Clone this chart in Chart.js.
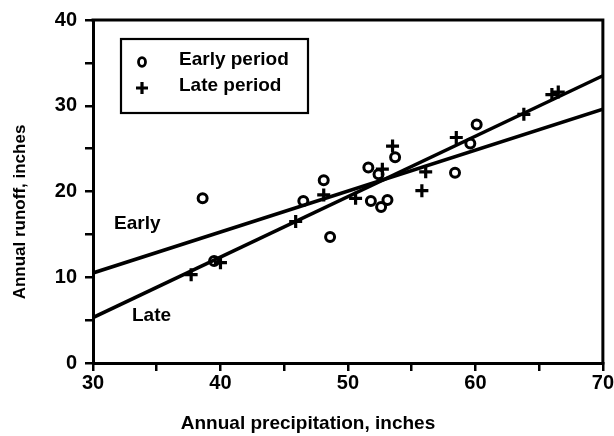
<!DOCTYPE html>
<html><head><meta charset="utf-8">
<script src="https://cdn.jsdelivr.net/npm/chart.js@4"></script>
<style>html,body{margin:0;padding:0;background:#fff;}canvas{display:block}</style>
</head><body>
<canvas id="c" width="614" height="436"></canvas>
<script>
// ---- data ----
const earlyX = [38.6, 39.5, 46.5, 48.1, 48.6, 51.6, 52.4, 51.8, 52.6, 53.1, 53.7, 58.4, 59.6, 60.1];
const earlyY = [19.2, 11.9, 18.9, 21.3, 14.7, 22.8, 22.0, 18.9, 18.2, 19.0, 24.0, 22.2, 25.6, 27.8];
const lateX  = [37.7, 40.0, 45.9, 48.1, 50.6, 52.7, 53.5, 55.8, 56.1, 58.5, 63.8, 66.0, 66.5];
const lateY  = [10.3, 11.7, 16.5, 19.6, 19.2, 22.6, 25.3, 20.1, 22.3, 26.3, 29.0, 31.3, 31.6];
const earlyFitX = [30, 70];
const earlyFitY = [10.5, 29.6];
const lateFitX  = [30, 70];
const lateFitY  = [5.3, 33.5];
const xTickLabels = [30, 40, 50, 60, 70];
const yTickLabels = [0, 10, 20, 30, 40];
const seriesNames = ['Early period', 'Late period'];
const lineNames = ['Early', 'Late'];
const xTitle = 'Annual precipitation, inches';
const yTitle = 'Annual runoff, inches';

const FONT = "'Liberation Sans', Arial, Helvetica, sans-serif";
const pts = (xs, ys) => xs.map((x, i) => ({x, y: ys[i]}));

const extras = {
  id: 'extras',
  afterDraw(chart) {
    const ctx = chart.ctx, a = chart.chartArea;
    ctx.save();
    ctx.strokeStyle = '#000';
    ctx.lineWidth = 3;
    ctx.beginPath();
    ctx.moveTo(a.left - 1.5, a.top);
    ctx.lineTo(a.right, a.top);
    ctx.lineTo(a.right, a.bottom + 1.5);
    ctx.stroke();
    // legend box
    ctx.lineWidth = 2.2;
    ctx.strokeRect(121, 39, 187, 74);
    ctx.lineWidth = 2.8;
    ctx.beginPath();
    ctx.ellipse(142, 62, 3.5, 4.3, 0, 0, Math.PI * 2);
    ctx.stroke();
    ctx.lineWidth = 3.2;
    ctx.beginPath();
    ctx.moveTo(136, 88); ctx.lineTo(148, 88);
    ctx.moveTo(142, 82); ctx.lineTo(142, 94);
    ctx.stroke();
    ctx.fillStyle = '#000';
    ctx.font = 'bold 19px ' + FONT;
    ctx.textBaseline = 'middle';
    ctx.textAlign = 'left';
    ctx.fillText(seriesNames[0], 179, 60);
    ctx.fillText(seriesNames[1], 179, 86);
    // line annotations
    ctx.fillText(lineNames[0], 114, 224);
    ctx.fillText(lineNames[1], 132, 316);
    // axis titles
    ctx.textAlign = 'center';
    ctx.fillText(xTitle, 308, 424);
    ctx.font = 'bold 17px ' + FONT;
    ctx.translate(20, 212);
    ctx.rotate(-Math.PI / 2);
    ctx.fillText(yTitle, 0, 0);
    ctx.restore();
  }
};

const tickCommon = {
  color: '#000',
  font: {family: FONT, size: 20, weight: 'bold'},
  autoSkip: false,
  maxRotation: 0,
  stepSize: 5
};

new Chart(document.getElementById('c'), {
  type: 'scatter',
  data: {
    datasets: [
      {label: seriesNames[0], data: pts(earlyX, earlyY), pointStyle: 'circle', pointRadius: 4.5,
       borderColor: '#000', backgroundColor: 'rgba(0,0,0,0)', borderWidth: 3, order: 1},
      {label: seriesNames[1], data: pts(lateX, lateY), pointStyle: 'cross', pointRadius: 6.5,
       borderColor: '#000', borderWidth: 3.2, order: 1},
      {type: 'line', label: lineNames[0], data: pts(earlyFitX, earlyFitY), borderColor: '#000',
       borderWidth: 3.5, pointRadius: 0, fill: false, order: 2},
      {type: 'line', label: lineNames[1], data: pts(lateFitX, lateFitY), borderColor: '#000',
       borderWidth: 3.5, pointRadius: 0, fill: false, order: 2}
    ]
  },
  options: {
    responsive: false,
    animation: false,
    layout: {padding: {left: 0, right: 11, top: 16, bottom: 0}},
    plugins: {legend: {display: false}, tooltip: {enabled: false}},
    scales: {
      x: {
        type: 'linear', min: 30, max: 70,
        afterFit(s) { s.height = 73; },
        grid: {drawOnChartArea: false, drawTicks: true, tickLength: 8, color: '#000', lineWidth: 2.5},
        border: {display: true, color: '#000', width: 3},
        ticks: Object.assign({}, tickCommon, {padding: 0,
          callback: v => xTickLabels.includes(v) ? String(v) : ''})
      },
      y: {
        type: 'linear', min: 0, max: 40,
        afterFit(s) { s.width = 93; },
        grid: {drawOnChartArea: false, drawTicks: true, tickLength: 8, color: '#000', lineWidth: 2.5},
        border: {display: true, color: '#000', width: 3},
        ticks: Object.assign({}, tickCommon, {padding: 8,
          callback: v => yTickLabels.includes(v) ? String(v) : ''})
      }
    }
  },
  plugins: [extras]
});
</script>
</body></html>
